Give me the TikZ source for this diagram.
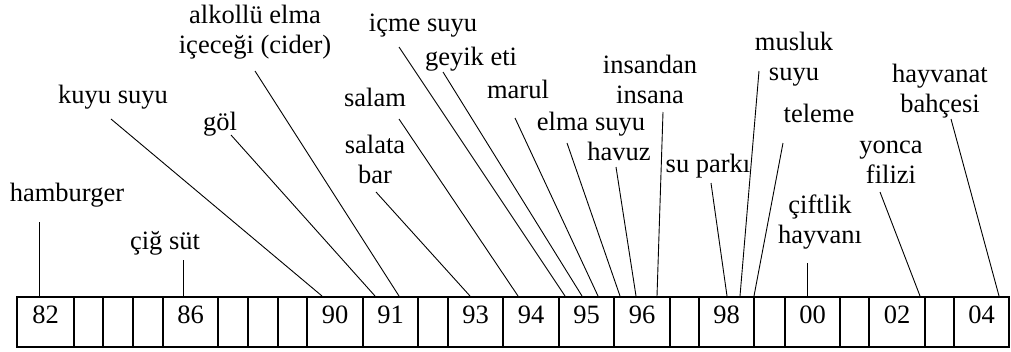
\documentclass[tikz,border=0pt]{standalone}
\usepackage{fontspec}
\setmainfont{Liberation Serif}
\begin{document}
\begin{tikzpicture}[x=1pt,y=-1pt,
  txt/.style={font=\fontsize{26.5}{30}\selectfont},
  lbl/.style={txt, anchor=base, inner sep=0pt, align=center},
  cell/.style={txt, draw, line width=2pt, anchor=base, inner sep=0pt,
    text height=26pt, text depth=24pt},
  conn/.style={line width=0.9pt}]
\useasboundingbox (0,0) rectangle (1011,351);

% year strip
\foreach \l/\r/\t/\n in {17/74/82/c82, 74/103//e1, 103/133//e2, 133/163//e3,
    163/218/86/c86, 218/248//e4, 248/278//e5, 278/307//e6,
    307/363/90/c90, 363/418/91/c91, 418/448//e7, 448/503/93/c93,
    503/559/94/c94, 559/614/95/c95, 614/670/96/c96, 670/699//e8,
    699/754/98/c98, 754/785//e9, 785/840/00/c00, 840/869//e10,
    869/925/02/c02, 925/954//e11, 954/1009/04/c04}
  \node[cell, minimum width={(\r-\l)*1pt}] (\n) at ({(\l+\r)/2},323) {\t};

% labels (anchored at the baseline of their last line)
\node[lbl] (hamb) at (67,201) {hamburger};
\node[lbl] (cig)  at (165,249) {çiğ süt};
\node[lbl] (kuyu) at (113,103) {kuyu suyu};
\node[lbl] (gol)  at (220,130) {göl};
\node[lbl] (cider) at (255,53) {alkollü elma\\içeceği (cider)};
\node[lbl] (salam) at (375,106) {salam};
\node[lbl] (salata) at (375,183) {salata\\bar};
\node[lbl] (icme) at (423,31) {içme suyu};
\node[lbl] (geyik) at (471,65) {geyik eti};
\node[lbl] (marul) at (518,98) {marul};
\node[lbl] (elma) at (591,130) {elma suyu};
\node[lbl] (havuz) at (619,160) {havuz};
\node[lbl] (insan) at (650,103) {insandan\\insana};
\node[lbl] (supark) at (708,172) {su parkı};
\node[lbl] (musluk) at (794,80) {musluk\\suyu};
\node[lbl] (teleme) at (819,122) {teleme};
\node[lbl] (ciftlik) at (820,243) {çiftlik\\hayvanı};
\node[lbl] (yonca) at (891,183) {yonca\\filizi};
\node[lbl] (hayv) at (940,112) {hayvanat\\bahçesi};

% connector ends
\coordinate (hambA) at (39,222);   \coordinate (hambB) at (39,296);
\coordinate (cigA) at (183,260);   \coordinate (cigB) at (183,296);
\coordinate (kuyuA) at (111,119);  \coordinate (kuyuB) at (322,296);
\coordinate (golA) at (231,135);   \coordinate (golB) at (375,296);
\coordinate (ciderA) at (255,71);  \coordinate (ciderB) at (399,296);
\coordinate (salamA) at (399,119); \coordinate (salamB) at (518,296);
\coordinate (salataA) at (376,192);\coordinate (salataB) at (470,296);
\coordinate (icmeA) at (399,47);   \coordinate (icmeB) at (565,296);
\coordinate (geyikA) at (443,72);  \coordinate (geyikB) at (582,296);
\coordinate (marulA) at (515,118); \coordinate (marulB) at (598,296);
\coordinate (elmaA) at (567,143);  \coordinate (elmaB) at (620,296);
\coordinate (havuzA) at (616,167); \coordinate (havuzB) at (636,296);
\coordinate (insanA) at (663,112); \coordinate (insanB) at (657,296);
\coordinate (suparkA) at (711,183);\coordinate (suparkB) at (727,296);
\coordinate (muslukA) at (759,71); \coordinate (muslukB) at (740,296);
\coordinate (telemeA) at (783,143);\coordinate (telemeB) at (754,296);
\coordinate (ciftlikA) at (807,263);\coordinate (ciftlikB) at (807,296);
\coordinate (yoncaA) at (880,192); \coordinate (yoncaB) at (920,296);
\coordinate (hayvA) at (951,119);  \coordinate (hayvB) at (999,296);

\foreach \k in {hamb,cig,kuyu,gol,cider,salam,salata,icme,geyik,marul,
    elma,havuz,insan,supark,musluk,teleme,ciftlik,yonca,hayv}
  \draw[conn] (\k A) -- (\k B);
\end{tikzpicture}
\end{document}
